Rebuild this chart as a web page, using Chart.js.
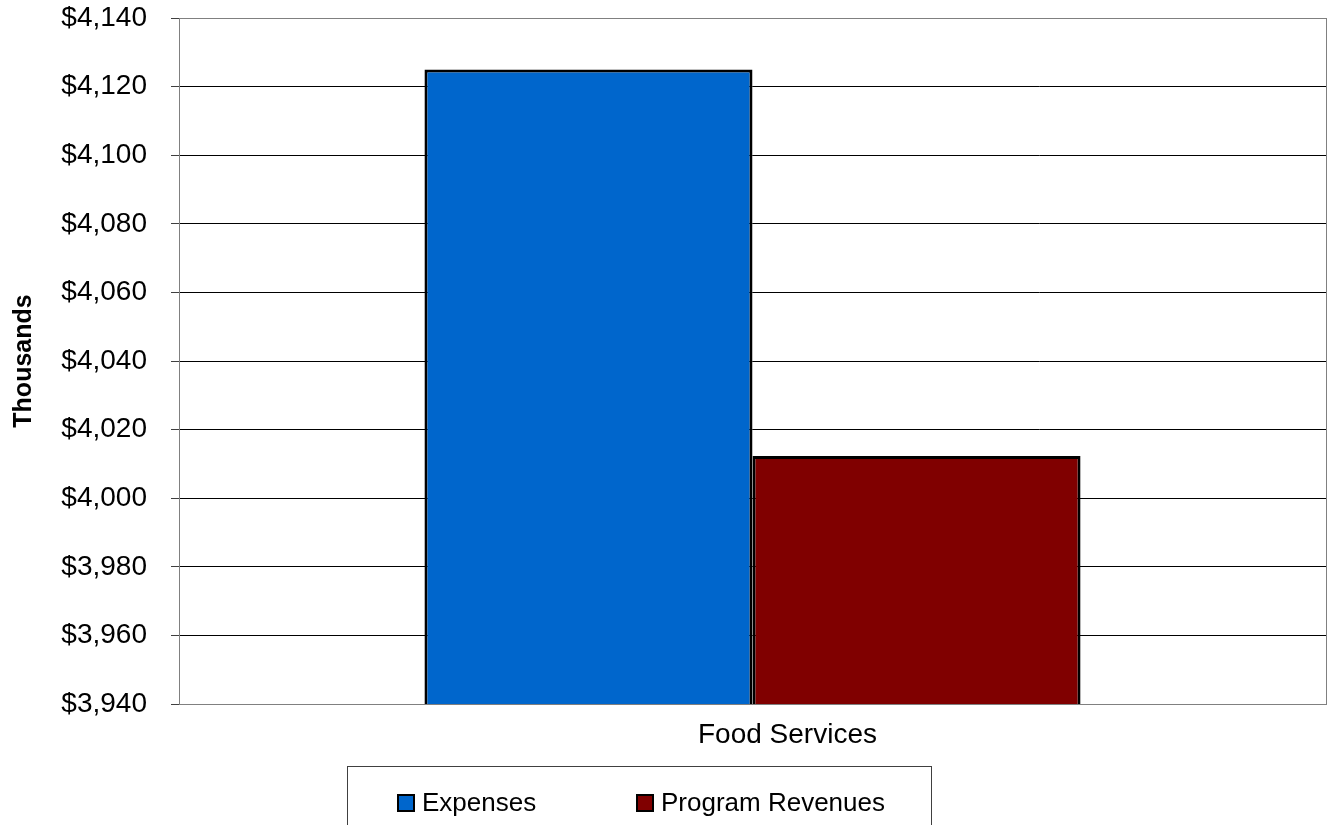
<!DOCTYPE html>
<html>
<head>
<meta charset="utf-8">
<script src="https://cdn.jsdelivr.net/npm/chart.js@4"></script>
<style>
  html, body { margin: 0; padding: 0; background: #fff; }
  #wrap { width: 1335px; height: 825px; }
</style>
</head>
<body>
<div id="wrap"><canvas id="chart" width="1335" height="825"></canvas></div>
<script>
// data (thousands of dollars)
const categories = ["Food Services"];
const expenses = [4125];
const programRevenues = [4012.3];
const seriesNames = ["Expenses", "Program Revenues"];
const seriesColors = ["#0066CC", "#800000"];
const yMin = 3940, yMax = 4140, yStep = 20;

const font = "'Liberation Sans', Arial, sans-serif";

// grey frame round the plot area
const frame = {
    id: "frame",
    beforeDatasetsDraw(chart) {
        const a = chart.chartArea, ctx = chart.ctx;
        ctx.save();
        ctx.strokeStyle = "#808080";
        ctx.lineWidth = 1;
        ctx.strokeRect(a.left + 0.5, a.top + 0.5, a.right - a.left, a.bottom - a.top);
        ctx.restore();
    }
};

// boxed legend under the chart
const boxLegend = {
    id: "boxLegend",
    afterDraw(chart) {
        const ctx = chart.ctx;
        ctx.save();
        ctx.strokeStyle = "#404040";
        ctx.lineWidth = 1;
        ctx.strokeRect(347.5, 766.5, 584, 70);
        ctx.font = "26px " + font;
        ctx.textBaseline = "middle";
        const xs = [398, 637];
        chart.data.datasets.forEach(function (ds, i) {
            ctx.fillStyle = ds.backgroundColor;
            ctx.fillRect(xs[i], 795, 16, 16);
            ctx.strokeStyle = "#000";
            ctx.lineWidth = 2;
            ctx.strokeRect(xs[i], 795, 16, 16);
            ctx.fillStyle = "#000";
            ctx.fillText(ds.label, xs[i] + 24, 804);
        });
        ctx.restore();
    }
};

new Chart(document.getElementById("chart"), {
    type: "bar",
    data: {
        labels: categories,
        datasets: [
            { label: seriesNames[0], data: expenses, backgroundColor: seriesColors[0] },
            { label: seriesNames[1], data: programRevenues, backgroundColor: seriesColors[1] }
        ]
    },
    options: {
        responsive: false,
        animation: false,
        devicePixelRatio: 1,
        layout: { padding: { top: 18, right: 9, bottom: 76, left: 0 } },
        datasets: {
            bar: {
                borderColor: "#000",
                borderWidth: 3,
                barPercentage: 1.0,
                categoryPercentage: 0.572,
                borderSkipped: false
            }
        },
        plugins: {
            legend: { display: false },
            tooltip: { enabled: false }
        },
        scales: {
            x: {
                grid: { display: false },
                border: { display: false },
                ticks: { color: "#000", font: { family: font, size: 28 }, padding: 6, labelOffset: 35 },
                afterFit(s) { s.height = 45; s.paddingLeft = 0; s.paddingRight = 0; }
            },
            y: {
                min: yMin,
                max: yMax,
                ticks: {
                    stepSize: yStep,
                    color: "#000",
                    padding: 24,
                    font: { family: font, size: 28 },
                    callback: function (v) { return "$" + v.toLocaleString("en-US"); }
                },
                grid: { color: "#000", lineWidth: 1, tickLength: 8, tickColor: "#404040" },
                border: { display: false },
                title: {
                    display: true,
                    text: "Thousands",
                    color: "#000",
                    font: { family: font, size: 25, weight: "bold" },
                    padding: { top: 9, bottom: 0 }
                },
                afterFit(s) { s.width = 179; s.paddingTop = 0; s.paddingBottom = 0; }
            }
        }
    },
    plugins: [frame, boxLegend]
});
</script>
</body>
</html>
